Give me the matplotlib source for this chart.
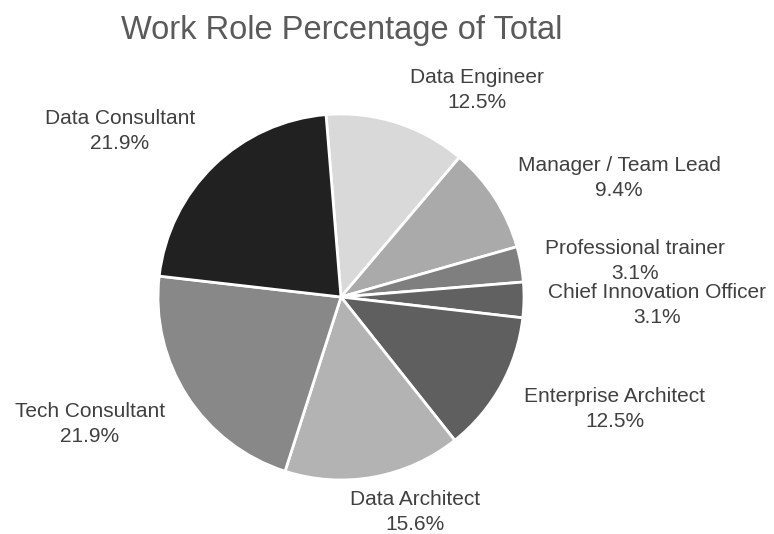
import matplotlib
matplotlib.use("Agg")
import matplotlib.pyplot as plt

plt.rcParams['font.family'] = ['Liberation Sans', 'DejaVu Sans']

# work role counts (32 respondents)
roles = ['Data Engineer', 'Manager / Team Lead', 'Professional trainer',
         'Chief Innovation Officer', 'Enterprise Architect', 'Data Architect',
         'Tech Consultant', 'Data Consultant']
counts = [4, 3, 1, 1, 4, 5, 7, 7]
colors = ['#d9d9d9', '#aaaaaa', '#7f7f7f', '#616161', '#5f5f5f', '#b3b3b3',
          '#888888', '#212121']

W, H = 774, 534
cx, cy, R = 341, 297, 183

# label anchor points in pixels (x from left, y from top)
label_px = [(477, 90), (619, 178), (635, 261), (657, 305),
            (615, 409), (415, 512), (90, 424), (120, 131)]

fig = plt.figure(figsize=(W / 100, H / 100), dpi=100)
ax = fig.add_axes([(cx - R) / W, (H - cy - R) / H, 2 * R / W, 2 * R / H])

wedges, _ = ax.pie(counts, colors=colors, startangle=94.7, counterclock=False,
                   wedgeprops=dict(edgecolor='white', linewidth=2),
                   radius=1)
ax.set_xlim(-1, 1)
ax.set_ylim(-1, 1)
ax.set_aspect('equal')

total = sum(counts)
for name, c, (px, py) in zip(roles, counts, label_px):
    fig.text(px / W, 1 - py / H, f"{name}\n{100 * c / total:.1f}%",
             ha='center', va='center', fontsize=15, color='#404040',
             linespacing=1.35)

fig.text(342 / W, 1 - 39 / H, 'Work Role Percentage of Total', ha='center',
         va='baseline', fontsize=23.5, color='#5a5a5a')

fig.savefig('out.png', dpi=100)
